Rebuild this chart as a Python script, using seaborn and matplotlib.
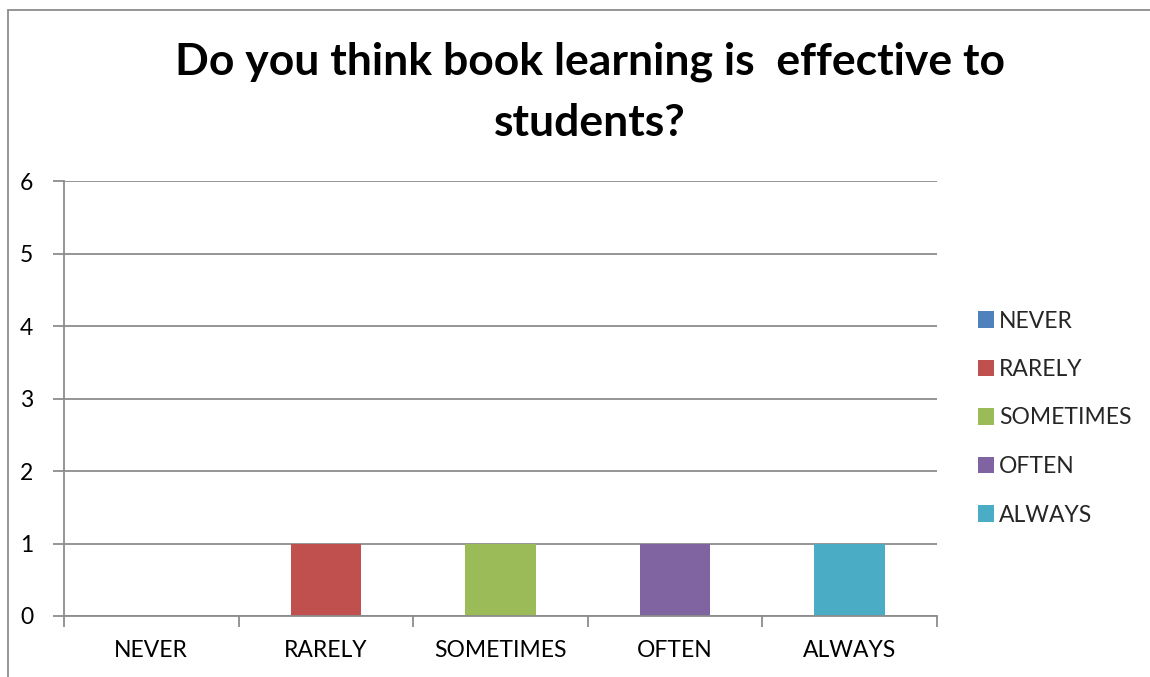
import matplotlib
matplotlib.use("Agg")
import matplotlib.pyplot as plt
from matplotlib.lines import Line2D
from matplotlib.patches import Patch
from matplotlib.ticker import FixedLocator
import seaborn as sns
import pandas as pd

categories = ["NEVER", "RARELY", "SOMETIMES", "OFTEN", "ALWAYS"]
counts = [0, 1, 1, 1, 1]
colors = ["#4F81BD", "#C0504D", "#9BBB59", "#8064A2", "#4BACC6"]
y_ticks = [0, 1, 2, 3, 4, 5, 6]
title = "Do you think book learning is  effective to\nstudents?"

sns.set_theme(style="white")
plt.rcParams["font.family"] = ["Lato", "DejaVu Sans"]

df = pd.DataFrame({"answer": categories, "count": counts})

fig = plt.figure(figsize=(11.5, 6.77), dpi=100)
ax = fig.add_axes([64 / 1150, 1 - 616 / 677, (937 - 64) / 1150, (616 - 181) / 677])

sns.barplot(data=df, x="answer", y="count", hue="answer", palette=colors,
            order=categories, hue_order=categories, dodge=False, width=0.405,
            saturation=1, legend=False, linewidth=0, ax=ax)

grid_c = "#8C8C8C"
ax.set_ylim(0, 6)
ax.set_xlim(-0.5, len(categories) - 0.5)
ax.set_yticks(y_ticks)
ax.yaxis.grid(True, color=grid_c, linewidth=1.3)
ax.set_axisbelow(True)
ax.set_xlabel("")
ax.set_ylabel("")
for side in ["top", "right"]:
    ax.spines[side].set_visible(False)
for side in ["left", "bottom"]:
    ax.spines[side].set_color(grid_c)
    ax.spines[side].set_linewidth(1.3)

ax.tick_params(axis="y", which="major", length=8, width=1.3, color=grid_c,
               labelsize=16.5, pad=14, labelcolor="black", left=True)
ax.tick_params(axis="x", which="major", length=0, labelsize=16.5, pad=17,
               labelcolor="black")
ax.xaxis.set_minor_locator(FixedLocator([i - 0.5 for i in range(len(categories) + 1)]))
ax.tick_params(axis="x", which="minor", length=8, width=1.3, color=grid_c,
               bottom=True)

fig.text(0.513, 1 - 42 / 677, title, ha="center", va="top", fontsize=32,
         fontweight="bold", linespacing=1.63, color="black")

handles = [Patch(facecolor=c, edgecolor="none") for c in colors]
fig.legend(handles, categories, loc="center left",
           bbox_to_anchor=(969 / 1150, 1 - 418 / 677), frameon=False,
           fontsize=16.5, handlelength=0.7, handleheight=0.7,
           handletextpad=0.2, labelspacing=1.2, borderaxespad=0)

# outer chart border (left and top edges)
fig.add_artist(Line2D([8 / 1150, 8 / 1150], [0, 1 - 10 / 677],
                      transform=fig.transFigure, color="#8C8C8C", linewidth=1.3))
fig.add_artist(Line2D([8 / 1150, 1], [1 - 10 / 677, 1 - 10 / 677],
                      transform=fig.transFigure, color="#8C8C8C", linewidth=1.3))

fig.savefig("out.png", dpi=100, facecolor="white")
